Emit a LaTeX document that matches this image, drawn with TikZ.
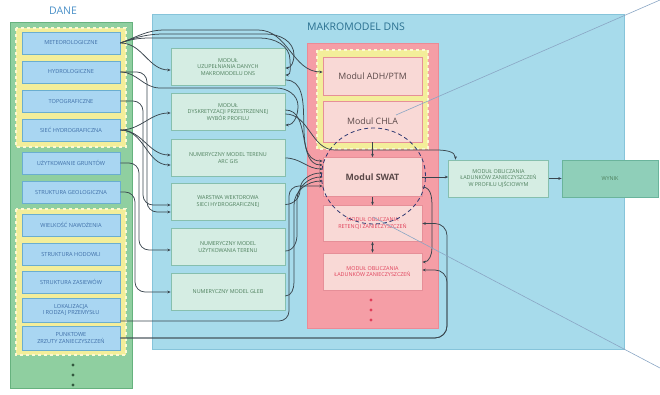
\documentclass[tikz,border=0pt]{standalone}
\usepackage{fontspec}
\setmainfont{Open Sans}
\usetikzlibrary{arrows.meta,shapes.geometric}

\definecolor{daneFill}{HTML}{8FCFA0}
\definecolor{daneEdge}{HTML}{66B27E}
\definecolor{yelFill}{HTML}{F3EE9A}
\definecolor{yelEdge}{HTML}{FBF8D2}
\definecolor{dataFill}{HTML}{A9D6F2}
\definecolor{dataEdge}{HTML}{6AAED0}
\definecolor{dataText}{HTML}{3F6FA8}
\definecolor{makroFill}{HTML}{A7DBEB}
\definecolor{makroEdge}{HTML}{86C4DA}
\definecolor{modFill}{HTML}{D5EDE3}
\definecolor{modEdge}{HTML}{86BFAE}
\definecolor{modText}{HTML}{4D7F5C}
\definecolor{redFill}{HTML}{F59EA6}
\definecolor{redEdge}{HTML}{EC8A95}
\definecolor{rboxFill}{HTML}{F9D9D6}
\definecolor{rboxEdge}{HTML}{E68F98}
\definecolor{rboxText}{HTML}{5A4848}
\definecolor{retText}{HTML}{E0405A}
\definecolor{wynikFill}{HTML}{8FCFB9}
\definecolor{wynikEdge}{HTML}{6AB49C}
\definecolor{lineCol}{HTML}{3A464E}
\definecolor{zoomCol}{HTML}{8AA6C4}
\definecolor{titleBlue}{HTML}{4A90C8}
\definecolor{titleMakro}{HTML}{2A7090}

\begin{document}
\begin{tikzpicture}[x=1pt, y=1pt,
  databox/.style={draw=dataEdge, fill=dataFill, line width=0.7pt, minimum width=98pt,
    minimum height=22pt, inner sep=1pt, align=center, text=dataText,
    font=\fontsize{5.6}{6.8}\selectfont},
  modbox/.style={draw=modEdge, fill=modFill, line width=0.7pt, minimum width=114pt,
    minimum height=37pt, inner sep=1pt, align=center, text=modText,
    font=\fontsize{5.4}{6.8}\selectfont},
  redbox/.style={draw=rboxEdge, fill=rboxFill, line width=0.7pt, minimum width=99pt,
    inner sep=1pt, align=center, text=rboxText, font=\fontsize{8.8}{10}\selectfont},
  retbox/.style={redbox, text=retText, font=\fontsize{5.4}{6.8}\selectfont},
  yelgroup/.style={fill=yelFill, draw=yelEdge, dashed, line width=1.1pt},
  conn/.style={draw=lineCol, line width=0.75pt, -{Stealth[length=3.4pt,width=2.8pt]}},
  zoomline/.style={draw=zoomCol, line width=0.6pt},
  lupa/.style={ellipse, draw=lineCol!80!blue, dash pattern=on 4pt off 3pt, line width=0.8pt,
    minimum width=104pt, minimum height=96pt}
]
\useasboundingbox (0,0) rectangle (660,-395);

% panels
\fill[daneFill, draw=daneEdge, line width=0.7pt] (10,-22) rectangle (132,-388);
\fill[yelgroup] (16,-28) rectangle (126,-147);
\fill[yelgroup] (16,-209) rectangle (126,-355);
\fill[makroFill, draw=makroEdge, line width=0.7pt] (152,-14) rectangle (624,-349);
\fill[redFill, draw=redEdge, line width=0.7pt] (307,-43) rectangle (438,-328);
\fill[yelgroup] (317,-50) rectangle (428,-149);

% titles
\node[text=titleBlue, font=\fontsize{10.5}{12}\selectfont] (tdane) at (63,-11) {DANE};
\node[text=titleMakro, font=\fontsize{10.5}{12}\selectfont] (tmakro) at (356,-27) {MAKROMODEL DNS};

% DANE boxes
\node[databox] (dmet)  at (71,-43)  {METEOROLOGICZNE};
\node[databox] (dhyd)  at (71,-72)  {HYDROLOGICZNE};
\node[databox] (dtopo) at (71,-101) {TOPOGRAFICZNE};
\node[databox] (dsiec) at (71,-130) {SIEĆ HYDROGRAFICZNA};
\node[databox] (duzyt) at (71,-163) {UŻYTKOWANIE GRUNTÓW};
\node[databox] (dgeol) at (71,-192) {STRUKTURA GEOLOGICZNA};
\node[databox] (dnaw)  at (71,-225) {WIELKOŚĆ NAWOŻENIA};
\node[databox] (dhod)  at (71,-254) {STRUKTURA HODOWLI};
\node[databox] (dzas)  at (71,-282) {STRUKTURA ZASIEWÓW};
\node[databox, minimum height=24pt] (dlok) at (71,-310) {LOKALIZACJA\\I RODZAJ PRZEMYSŁU};
\node[databox, minimum height=24pt] (dpkt) at (71,-338) {PUNKTOWE\\ZRZUTY ZANIECZYSZCZEŃ};
\foreach \y in {365,375,385}
  \fill[daneEdge!50!black] (73,-\y) circle (1.6pt);

% modules of the macromodel
\node[modbox] (muzup) at (228,-67)    {MODUŁ\\UZUPEŁNIANIA DANYCH\\MAKROMODELU DNS};
\node[modbox] (mdysk) at (228,-112)   {MODUŁ\\DYSKRETYZACJI PRZESTRZENNEJ\\WYBÓR PROFILU};
\node[modbox] (mnmt)  at (228,-158)   {NUMERYCZNY MODEL TERENU\\ARC GIS};
\node[modbox] (mwar)  at (228,-201.5) {WARSTWA WEKTOROWA\\SIECI HYDROGRAFICZNEJ};
\node[modbox] (mnmut) at (228,-247)   {NUMERYCZNY MODEL\\UŻYTKOWANIA TERENU};
\node[modbox] (mgleb) at (228,-292)   {NUMERYCZNY MODEL GLEB};

% red block
\node[redbox, minimum height=38pt] (madh)  at (372.5,-76)    {Modul ADH/PTM};
\node[redbox, minimum height=41pt] (mchla) at (372.5,-121.5) {Modul CHLA};
\node[redbox, minimum height=39pt, font=\fontsize{8.8}{10}\selectfont\bfseries] (mswat) at (372.5,-177) {Modul SWAT};
\node[retbox, minimum height=36pt] (mret) at (372.5,-223.5) {MODUŁ OBLICZANIA\\RETENCJI ZANIECZYSZCZEŃ};
\node[retbox, minimum height=37pt] (mlad) at (372.5,-271.5) {MODUŁ OBLICZANIA\\ŁADUNKÓW ZANIECZYSZCZEŃ};
\foreach \y in {300,310,320}
  \fill[retText] (371,-\y) circle (1.6pt);

% outlet and result
\node[modbox, minimum width=100pt] (mprof) at (498.5,-178.5)
  {MODUŁ OBLICZANIA\\ŁADUNKÓW ZANIECZYSZCZEŃ\\W PROFILU UJŚCIOWYM};
\node[modbox, minimum width=96pt, fill=wynikFill, draw=wynikEdge] (mwynik) at (610,-178.5) {WYNIK};

% data -> modules
\draw[conn] (dmet.east) to[out=0,in=180] ([yshift=-3pt]muzup.west);
\draw[conn] (dmet.east) to[out=20,in=180] (165,-30) -- (258,-30) to[out=0,in=180] ([yshift=4pt]madh.west);
\draw[conn] (dmet.east) to[out=20,in=180] (165,-34) -- (266,-34) to[out=0,in=90] (294,-55) to[out=-90,in=0] ([yshift=-1pt]muzup.east);
\draw[conn] (dmet.east) to[out=20,in=180] (165,-38) -- (260,-38) to[out=0,in=90] (290,-60) to[out=-90,in=0] ([yshift=-8pt]muzup.east);
\draw[conn] (dhyd.east) to[out=0,in=180] (160,-88) -- (276,-88) to[out=0,in=90] (298,-106) to[out=-90,in=0] ([yshift=-13pt]mdysk.east);
\draw[conn] (dsiec.east) to[out=0,in=180] ([yshift=-1pt]mdysk.west);
\draw[conn] (dsiec.east) to[out=0,in=180] ([yshift=3pt]mnmt.west);
\draw[conn] (dsiec.east) to[out=0,in=180] ([yshift=-7pt]mnmt.west);
\draw[conn, rounded corners=10pt] (dtopo.east) -- (143,-101) -- (143,-205) -- ([yshift=-3.5pt]mwar.west);
\draw[conn, rounded corners=10pt] (dhyd.east) -- (147,-72) -- (147,-212) -- ([yshift=-10.5pt]mwar.west);
\draw[conn, rounded corners=10pt] (duzyt.east) -- (139,-163) -- (139,-250) -- ([yshift=-3pt]mnmut.west);
\draw[conn, rounded corners=10pt] (dgeol.east) -- (135,-192) -- (135,-292) -- (mgleb.west);
\draw[conn, rounded corners=10pt] ([yshift=-11pt]dlok.east) -- (289,-321) -- (289,-186) -- ([yshift=-9pt]mswat.west);
\draw[conn, rounded corners=12pt] (dpkt.east) -- (447,-338) -- (447,-223.5) -- (mret.east);
\draw[conn, rounded corners=12pt] (dpkt.east) -- (447,-338) -- (447,-270) -- ([yshift=1.5pt]mlad.east);

% modules -> SWAT
\draw[conn] ([yshift=-13pt]muzup.east) to[out=0,in=180] ([yshift=16pt]mswat.west);
\draw[conn] ([yshift=2pt]mdysk.east) to[out=0,in=180] ([yshift=12pt]mswat.west);
\draw[conn] (mnmt.east) to[out=0,in=180] ([yshift=8pt]mswat.west);
\draw[conn] ([yshift=-3pt]mwar.east) to[out=0,in=-90] (300,-190) to[out=90,in=180] ([yshift=4pt]mswat.west);
\draw[conn] ([yshift=-4pt]mnmut.east) to[out=0,in=-90] (297,-235) -- (297,-200) to[out=90,in=180] (mswat.west);
\draw[conn] ([yshift=-4pt]mgleb.east) to[out=0,in=-90] (294,-282) -- (294,-205) to[out=90,in=180] ([yshift=-4pt]mswat.west);
\draw[conn] ([yshift=-2pt]mdysk.east) to[out=0,in=180] (335,-150) -- (436,-150) to[out=0,in=90] ([xshift=-43pt]mprof.north);

% inside the red block
\draw[conn] (mchla.south) -- (mswat.north);
\draw[conn] (mswat.south) -- (mret.north);
\draw[conn, {Stealth[length=3.4pt,width=2.8pt]}-{Stealth[length=3.4pt,width=2.8pt]}] (mret.south) -- (mlad.north);
\draw[conn] ([yshift=-10pt]mswat.east) to[out=0,in=90] (432,-212) -- (432,-248) to[out=-90,in=0] ([yshift=9.5pt]mlad.east);
\draw[conn] (mswat.east) -- (mswat.east -| mprof.west);
\draw[conn] (mprof.east) -- (mprof.east -| mwynik.west);

% magnified SWAT
\node[lupa] (lupa) at (373.5,-176) {};
\coordinate (zoomAstart) at (396,-115);
\coordinate (zoomA) at (660,0);
\coordinate (zoomBstart) at (373,-217);
\coordinate (zoomB) at (660,-368);
\draw[zoomline] (zoomAstart) -- (zoomA);
\draw[zoomline] (zoomBstart) -- (zoomB);
\end{tikzpicture}
\end{document}
